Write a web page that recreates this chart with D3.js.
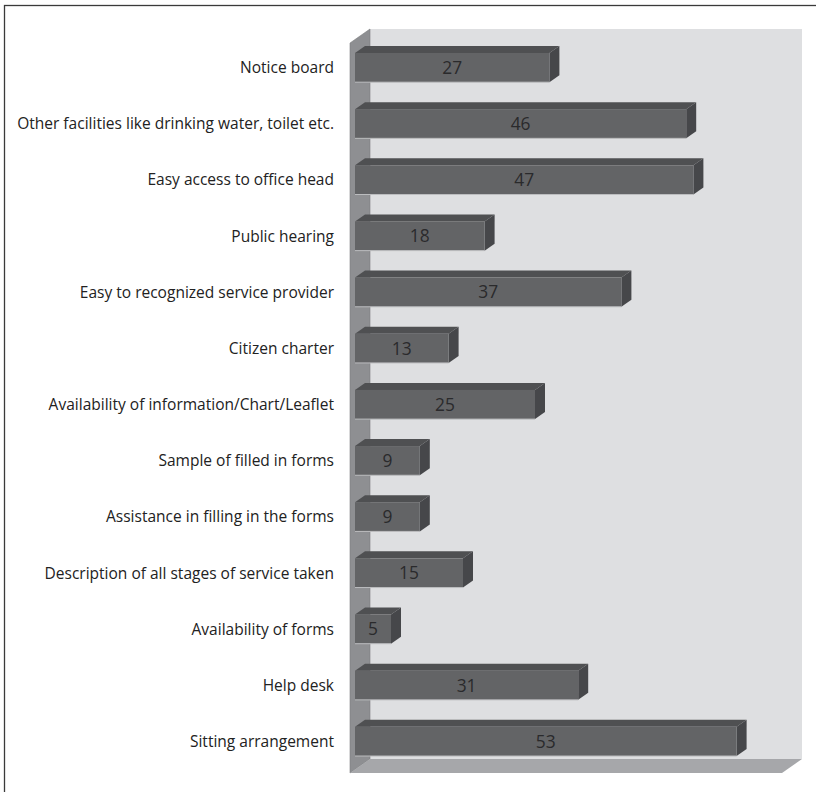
<!DOCTYPE html>
<html>
<head>
<meta charset="utf-8">
<script src="https://cdn.jsdelivr.net/npm/d3@7"></script>
<style>
  body { margin: 0; background: #fff; }
  svg { display: block; }
</style>
</head>
<body>
<div class="canvas"></div>
<script>
// data (top to bottom as drawn)
const categories = [
  "Notice board",
  "Other facilities like drinking water, toilet etc.",
  "Easy access to office head",
  "Public hearing",
  "Easy to recognized service provider",
  "Citizen charter",
  "Availability of information/Chart/Leaflet",
  "Sample of filled in forms",
  "Assistance in filling in the forms",
  "Description of all stages of service taken",
  "Availability of forms",
  "Help desk",
  "Sitting arrangement"
];
const values = [27, 46, 47, 18, 37, 13, 25, 9, 9, 15, 5, 31, 53];
const xDomain = [0, 60];

const dims = { width: 816, height: 792 };
const plot = { left: 350, right: 782, top: 43, bottom: 773 };
const depth = { dx: 20, dy: -14 };
const font = "'Open Sans', 'Noto Sans', sans-serif";

const svg = d3
  .select(".canvas")
  .append("svg")
  .attr("width", dims.width)
  .attr("height", dims.height);

// outer frame
svg
  .append("rect")
  .attr("x", 4.5)
  .attr("y", 5.5)
  .attr("width", 830)
  .attr("height", 800)
  .attr("fill", "none")
  .attr("stroke", "#3a3a3a")
  .attr("stroke-width", 1.3);

const x = d3.scaleLinear().domain(xDomain).range([plot.left, plot.right]);
const y = d3
  .scaleBand()
  .domain(categories)
  .range([plot.top, plot.bottom])
  .paddingInner(0.48)
  .paddingOuter(0.24);

const pts = (arr) => arr.map((p) => p.join(",")).join(" ");

// walls
const walls = svg.append("g");
// back wall
walls
  .append("polygon")
  .attr("points", pts([
    [plot.left + depth.dx, plot.top + depth.dy],
    [plot.right + depth.dx, plot.top + depth.dy],
    [plot.right + depth.dx, plot.bottom + depth.dy],
    [plot.left + depth.dx, plot.bottom + depth.dy]
  ]))
  .attr("fill", "#dedfe1");
// left side wall
walls
  .append("polygon")
  .attr("points", pts([
    [plot.left, plot.top],
    [plot.left + depth.dx, plot.top + depth.dy],
    [plot.left + depth.dx, plot.bottom + depth.dy],
    [plot.left, plot.bottom]
  ]))
  .attr("fill", "#8e8f92")
  .attr("stroke", "#7c7d80")
  .attr("stroke-width", 0.6);
// floor
walls
  .append("polygon")
  .attr("points", pts([
    [plot.left, plot.bottom],
    [plot.left + depth.dx, plot.bottom + depth.dy],
    [plot.right + depth.dx, plot.bottom + depth.dy],
    [plot.right, plot.bottom]
  ]))
  .attr("fill", "#a6a7aa");

// bars sit in the middle half of the depth
const b0 = { dx: depth.dx * 0.25, dy: depth.dy * 0.25 };
const bd = { dx: depth.dx * 0.5, dy: depth.dy * 0.5 };

const data = categories.map((c, i) => ({ name: c, value: values[i] }));

const bars = svg
  .append("g")
  .selectAll("g")
  .data(data)
  .enter()
  .append("g")
  .attr("transform", `translate(${b0.dx},${b0.dy})`);

bars.each(function (d) {
  const g = d3.select(this);
  const x0 = x(0);
  const x1 = x(d.value);
  const yt = y(d.name);
  const yb = yt + y.bandwidth();
  // top face
  g.append("polygon")
    .attr("points", pts([
      [x0, yt], [x0 + bd.dx, yt + bd.dy], [x1 + bd.dx, yt + bd.dy], [x1, yt]
    ]))
    .attr("fill", "#4f5052");
  // side face
  g.append("polygon")
    .attr("points", pts([
      [x1, yt], [x1 + bd.dx, yt + bd.dy], [x1 + bd.dx, yb + bd.dy], [x1, yb]
    ]))
    .attr("fill", "#46474a");
  // front face
  g.append("rect")
    .attr("x", x0)
    .attr("y", yt)
    .attr("width", x1 - x0)
    .attr("height", y.bandwidth())
    .attr("fill", "#636466");
  g.append("line")
    .attr("x1", x0)
    .attr("x2", x1)
    .attr("y1", yb)
    .attr("y2", yb)
    .attr("stroke", "#bdbec0")
    .attr("stroke-width", 1);
  // value label
  g.append("text")
    .attr("class", "val")
    .attr("x", (x0 + x1) / 2)
    .attr("y", yt + y.bandwidth() / 2)
    .attr("dy", "0.36em")
    .attr("text-anchor", "middle")
    .attr("font-family", font)
    .attr("font-size", 14)
    .attr("fill", "#2a2a2c")
    .text(d.value);
});

// category labels
const labels = svg
  .append("g")
  .selectAll("text")
  .data(data)
  .enter()
  .append("text")
  .attr("x", 334)
  .attr("y", (d) => y(d.name) + y.bandwidth() / 2 + b0.dy)
  .attr("dy", "0.36em")
  .attr("text-anchor", "end")
  .attr("font-family", font)
  .attr("font-size", 14)
  .attr("fill", "#222")
  .text((d) => d.name);

// fit the font so the longest label spans about 317px like the original
const longest = d3.max(labels.nodes(), (n) => n.getComputedTextLength());
const fs = Math.min(16, (14 * 317) / longest);
labels.attr("font-size", fs);
svg.selectAll("text.val").attr("font-size", fs * 1.12);
</script>
</body>
</html>
